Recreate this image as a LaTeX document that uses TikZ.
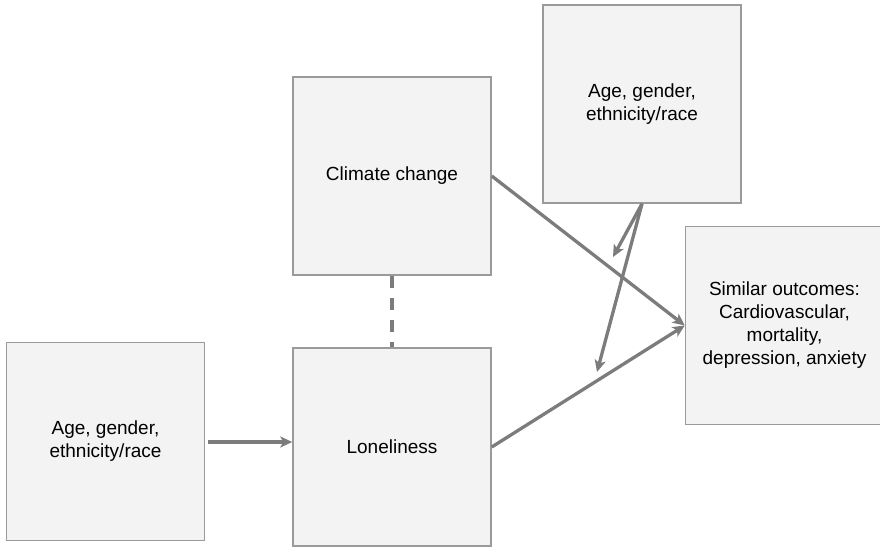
\documentclass[tikz,border=0pt]{standalone}
\usepackage{fontspec}
\setmainfont{Liberation Sans}
\usetikzlibrary{arrows.meta,calc}
\definecolor{boxfill}{HTML}{F3F3F3}
\definecolor{boxline}{HTML}{9A9A9A}
\definecolor{arrowgray}{HTML}{7C7C7C}
\begin{document}
\begin{tikzpicture}[x=1pt,y=-1pt,
  box/.style={draw=boxline,fill=boxfill,line width=1.5pt,minimum width=198pt,minimum height=198pt,
    inner sep=0pt,align=center,font=\fontsize{19}{23}\selectfont,text=black},
  link/.style={draw=arrowgray,line width=3.3pt},
  arr/.style={link,-{Stealth[length=12pt,width=11pt,inset=3pt]}}]
\useasboundingbox (0,0) rectangle (880,547);
\begin{scope}
\clip (0,0) rectangle (880,547);
% boxes
\node[box] (L) at (105.5,441.5) {Age, gender,\\ethnicity/race};
\node[box] (C) at (392,176) {Climate change};
\node[box] (N) at (392,447) {Loneliness};
\node[box] (T) at (642,104) {Age, gender,\\ethnicity/race};
\node[box] (O) at (784.5,325.5) {Similar outcomes:\\Cardiovascular,\\mortality,\\depression, anxiety};
\end{scope}
% free ends of the moderator arrows
\coordinate (m1) at (613,257);
\coordinate (m2) at (597,372);
% connectors
\draw[arr] ([xshift=3pt]L.east |- 0,442) -- (N.west |- 0,442);
\draw[link,dash pattern=on 12pt off 10pt] (C.south) -- (N.north);
\draw[arr] (C.east) -- (O.west);
\draw[arr] (N.east) -- (O.west);
\draw[arr] (T.south) -- (m1);
\draw[arr] (T.south) -- (m2);
\end{tikzpicture}
\end{document}
